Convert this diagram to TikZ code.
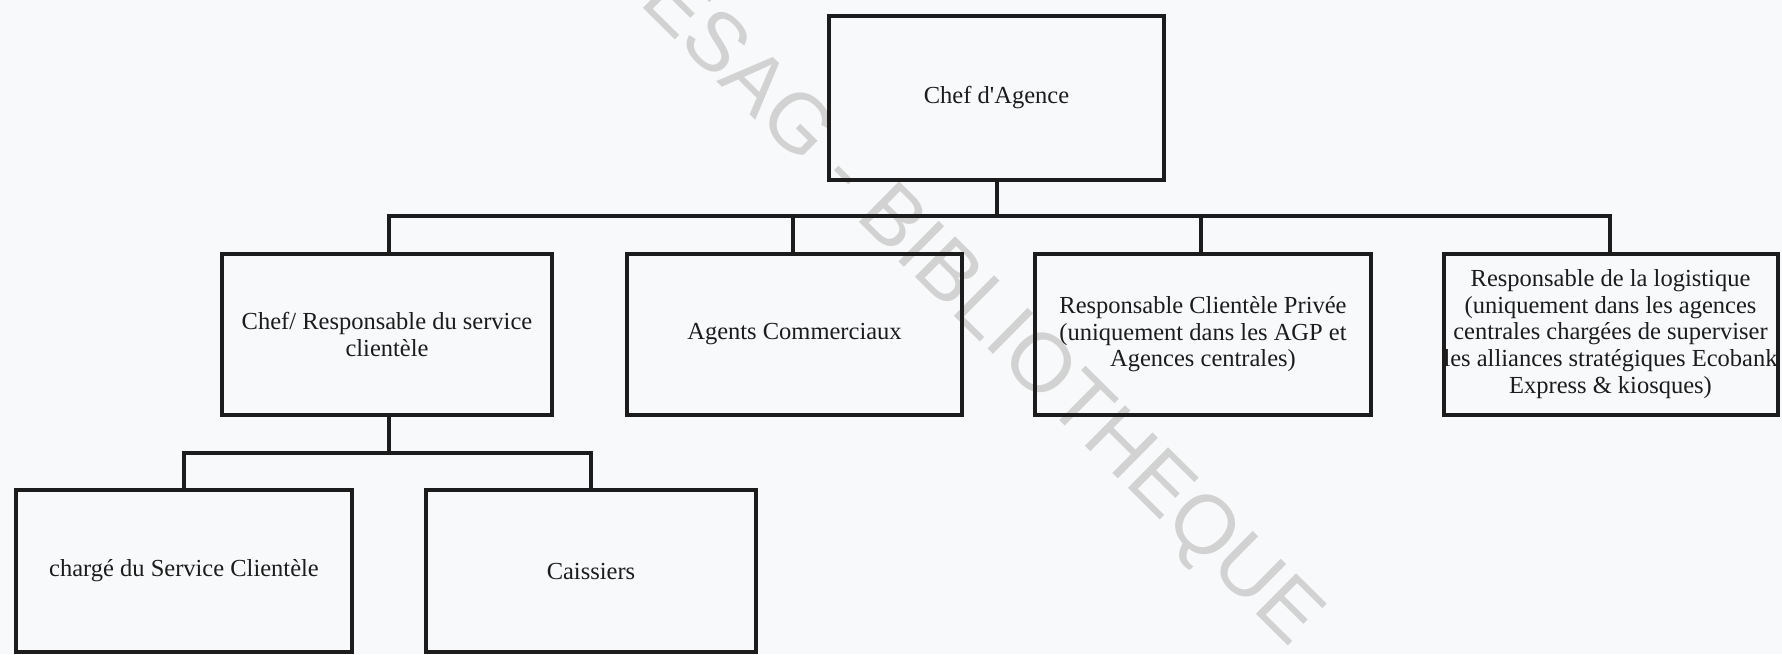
\documentclass[tikz,border=0pt]{standalone}
\usepackage{fontspec}
\setmainfont{Liberation Serif}
\newfontfamily\wmfont{Liberation Sans}
\definecolor{ink}{RGB}{28,28,28}
\definecolor{paper}{RGB}{247,249,250}
\definecolor{stamp}{RGB}{210,210,210}
\begin{document}
\begin{tikzpicture}[x=0.5pt,y=-0.5pt,
  post/.style={draw=ink, line width=2pt, align=center, inner sep=0pt,
    text=ink, font=\fontsize{12.25pt}{13.3pt}\selectfont},
  link/.style={draw=ink, line width=2pt}]
  % page
  \fill[paper] (0,0) rectangle (1782,654);
  \useasboundingbox (0,0) rectangle (1782,654);

  % library stamp
  \node[font=\wmfont\fontsize{41.5pt}{45pt}\selectfont, text=stamp,
        rotate=-44.7, inner sep=0pt] (wm) at (958,290) {CESAG - BIBLIOTHEQUE};

  % level 0
  \node[post, minimum width=167.5pt, minimum height=82pt] (ca) at (996.5,98)
    {Chef d\textquotesingle Agence};

  % level 1
  \node[post, minimum width=165pt, minimum height=80.5pt] (csc) at (387,334.5)
    {Chef/ Responsable du service\\clientèle};
  \node[post, minimum width=167.5pt, minimum height=80.5pt] (ac) at (794.5,334.5)
    {Agents Commerciaux};
  \node[post, minimum width=168pt, minimum height=80.5pt] (rcp) at (1203,334.5)
    {Responsable Clientèle Privée\\(uniquement dans les AGP et\\Agences centrales)};
  \node[post, minimum width=166.5pt, minimum height=80.5pt] (log) at (1610.5,334.5)
    {\raisebox{4pt}{\begin{tabular}{@{}c@{}}Responsable de la logistique\\
      (uniquement dans les agences\\ centrales chargées de superviser\\
      les alliances stratégiques Ecobank\\ Express \& kiosques)\end{tabular}}};

  % level 2
  \node[post, minimum width=168pt, minimum height=81pt] (chg) at (184,571)
    {chargé du Service Clientèle};
  \node[post, minimum width=165pt, minimum height=81pt] (cai) at (591,571)
    {Caissiers};

  % bus lines
  \coordinate (bus1) at (997,216);
  \coordinate (bus2) at (389,453);

  \foreach \c/\x in {csc/389, ac/793, rcp/1201, log/1610}{
    \draw[link] (ca.south -| bus1) -- (bus1) -| (\x,216) -- (\c.north -| \x,0);
  }
  \draw[link] (csc.south -| bus2) -- (bus2) -| (chg.north);
  \draw[link] (bus2) -| (cai.north);
\end{tikzpicture}
\end{document}
